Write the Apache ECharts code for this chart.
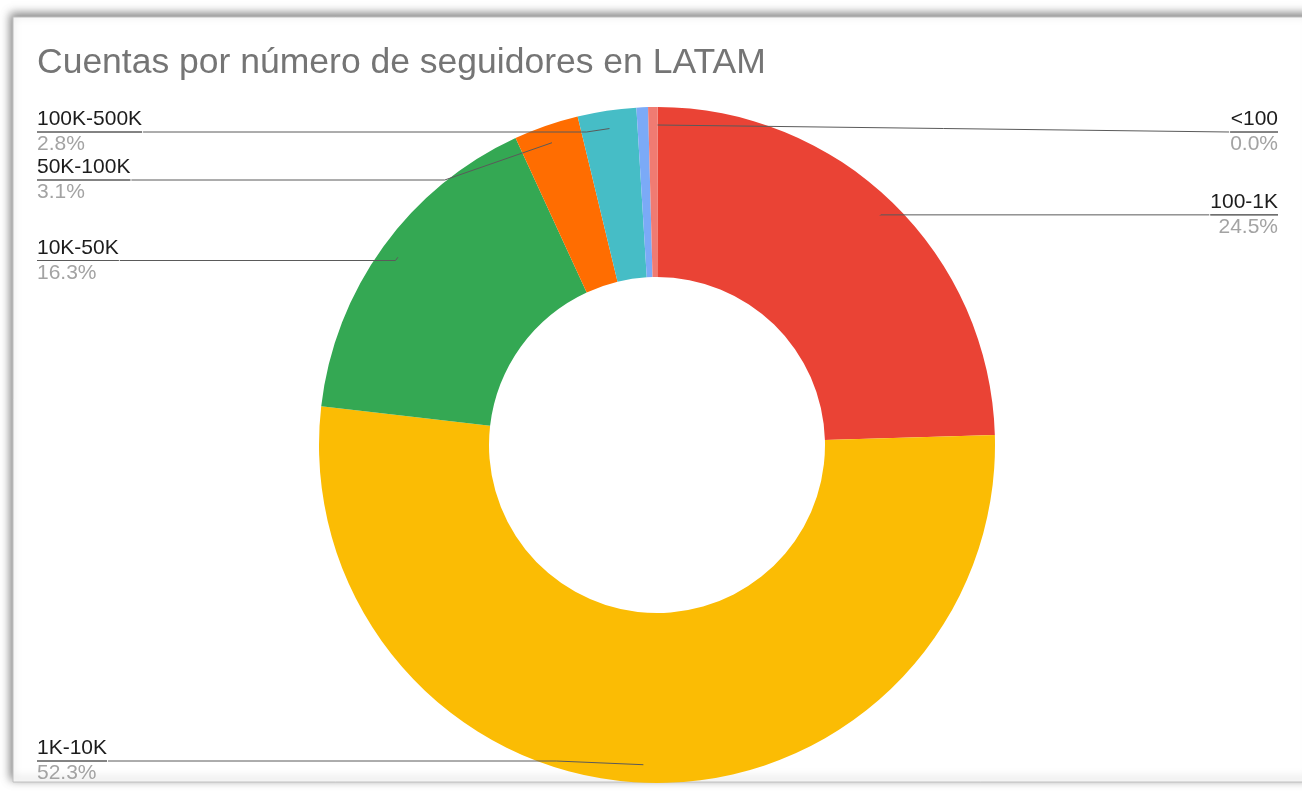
<!DOCTYPE html>
<html>
<head>
<meta charset="utf-8">
<script src="https://cdn.jsdelivr.net/npm/echarts@6/dist/echarts.min.js"></script>
<style>
html,body{margin:0;padding:0;background:#fff;}
#chart{width:1302px;height:791px;}
</style>
</head>
<body>
<div id="chart"></div>
<script>
// Data
const categories = ['<100', '100-1K', '1K-10K', '10K-50K', '50K-100K', '100K-500K', '500K-1M', '>1M'];
const shares = [0.0, 24.5, 52.3, 16.3, 3.1, 2.8, 0.55, 0.45];
const showLabel = [true, true, true, true, true, true, false, false];
const colors = ['#4285f4', '#ea4335', '#fbbc04', '#34a853', '#ff6d01', '#46bdc6', '#7baaf7', '#f07b72'];
const titleText = 'Cuentas por número de seguidores en LATAM';

const FONT = '"Liberation Sans", Arial, sans-serif';
const CX = 657, CY = 445;
const START = 89.9;
const LABEL_TOP = 108; // upper bound of the label area

const chart = echarts.init(document.getElementById('chart'), null, {renderer: 'canvas'});

const visibleData = categories.map((c, i) => ({
  name: c, value: shares[i], itemStyle: {color: colors[i]}
}));

const labelData = categories.map((c, i) => {
  const isRight = i < 2; // items on the right half
  return {
    name: c,
    value: shares[i],
    label: {show: showLabel[i], edgeDistance: isRight ? 24 : 37},
    labelLine: {show: showLabel[i]}
  };
});

chart.setOption({
  animation: false,
  backgroundColor: '#ffffff',
  title: {
    text: titleText,
    left: 37,
    top: 45,
    padding: 0,
    textStyle: {fontFamily: FONT, fontSize: 35.5, fontWeight: 'normal', color: '#757575'}
  },
  graphic: [{
    type: 'rect',
    z: -10,
    shape: {x: 13, y: 17, width: 1300, height: 765},
    style: {
      fill: '#ffffff',
      stroke: '#c0c0c0',
      lineWidth: 1,
      shadowBlur: 9,
      shadowColor: 'rgba(0,0,0,0.5)',
      shadowOffsetX: -2,
      shadowOffsetY: -3
    }
  }],
  series: [{
    type: 'pie',
    name: 'slices',
    left: 0, right: 0, top: 0, bottom: 0,
    center: [CX, CY],
    radius: [168, 338],
    startAngle: START,
    clockwise: true,
    silent: true,
    label: {show: false},
    labelLine: {show: false},
    itemStyle: {borderWidth: 0},
    data: visibleData
  }, {
    type: 'pie',
    name: 'labels',
    left: 0, right: 0, top: LABEL_TOP, bottom: 6,
    center: [CX, CY - LABEL_TOP],
    radius: [168, 320],
    startAngle: START,
    clockwise: true,
    silent: true,
    z: 3,
    itemStyle: {color: 'rgba(0,0,0,0)', borderWidth: 0},
    avoidLabelOverlap: true,
    label: {
      show: true,
      alignTo: 'edge',
      edgeDistance: 37,
      distanceToLabelLine: 0,
      fontFamily: FONT,
      formatter: function (p) {
        return '{name|' + p.name + '}\n{hr|}\n{per|' + p.value.toFixed(1) + '%}';
      },
      rich: {
        name: {fontFamily: FONT, fontSize: 21, color: '#1c1c1c', lineHeight: 25},
        hr: {width: '100%', height: 0, borderWidth: 1, borderColor: '#5a5a5a'},
        per: {fontFamily: FONT, fontSize: 21, color: '#a3a3a3', lineHeight: 25}
      }
    },
    labelLine: {
      show: true,
      length: 1,
      length2: 10,
      smooth: false,
      lineStyle: {color: '#5a5a5a', width: 1}
    },
    data: labelData
  }]
});
</script>
</body>
</html>
